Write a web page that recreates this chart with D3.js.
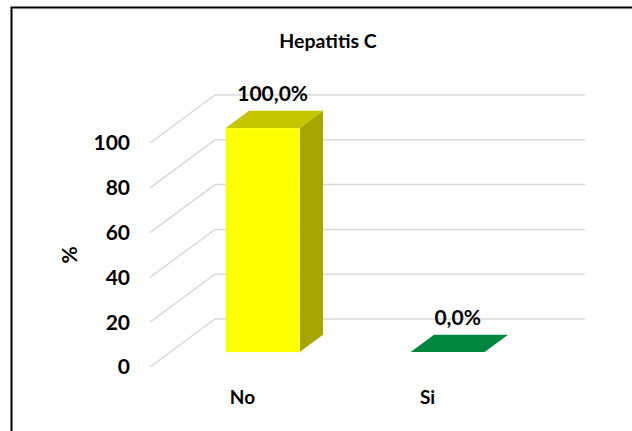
<!DOCTYPE html>
<html lang="es">
<head>
    <meta charset="UTF-8">
    <title>Hepatitis C</title>
    <style>
        body { margin: 0; background: #fff; }
        text { font-family: Lato, "Open Sans", sans-serif; font-weight: bold; fill: #000; }
    </style>
</head>
<body>
<script src="https://d3js.org/d3.v7.min.js"></script>
<script>
    let w = 632, h = 431;

    // datos
    let categories = ["No", "Si"];
    let values = [100, 0];
    let valueLabels = ["100,0%", "0,0%"];
    let barColors = ["#ffff00", "#00863d"];
    let topColors = ["#c6c600", "#00863d"];
    let sideColors = ["#a6a600", "#006b30"];
    let ticks = [0, 20, 40, 60, 80, 100];

    // profundidad del pseudo 3D
    let depth = {dx: 65, dy: -48};
    let barFront = 0.31, barBack = 0.67;

    let x = d3.scaleBand()
        .domain(categories)
        .range([150, 520])
        .padding(0);

    let y = d3.scaleLinear()
        .domain([0, 100])
        .range([367, 143]);

    let svg = d3.select("body")
        .append("svg")
        .attr("width", w)
        .attr("height", h);

    // borde
    svg.append("path")
        .attr("d", "M11.5," + h + "V7.5H" + w)
        .attr("fill", "none")
        .attr("stroke", "#000")
        .attr("stroke-width", 2);

    // titulo
    svg.append("text")
        .attr("x", 328)
        .attr("y", 48)
        .attr("text-anchor", "middle")
        .style("font-size", "19.5px")
        .text("Hepatitis C");

    // rejilla (suelo lateral + pared de fondo)
    let grid = svg.append("g");
    ticks.forEach(function (t) {
        let y0 = y(t);
        grid.append("path")
            .attr("d", "M" + x.range()[0] + "," + y0 +
                "L" + (x.range()[0] + depth.dx) + "," + (y0 + depth.dy) +
                "H" + (x.range()[1] + depth.dx))
            .attr("fill", "none")
            .attr("stroke", "#d9d9d9")
            .attr("stroke-width", 1.5);
    });

    // etiquetas del eje Y
    svg.selectAll(".ytick")
        .data(ticks)
        .enter()
        .append("text")
        .attr("class", "ytick")
        .attr("x", 130)
        .attr("y", function (d) { return y(d); })
        .attr("dy", "0.35em")
        .attr("text-anchor", "end")
        .style("font-size", "21px")
        .text(function (d) { return d; });

    svg.append("text")
        .attr("transform", "translate(77,255) rotate(-90)")
        .attr("text-anchor", "middle")
        .style("font-size", "21px")
        .text("%");

    // etiquetas del eje X
    svg.selectAll(".xtick")
        .data(categories)
        .enter()
        .append("text")
        .attr("class", "xtick")
        .attr("x", function (d) { return x(d) + x.bandwidth() / 2; })
        .attr("y", 404)
        .attr("text-anchor", "middle")
        .style("font-size", "19px")
        .text(function (d) { return d; });

    // barras
    let bw = x.bandwidth() * 0.4;
    let f = {dx: depth.dx * barFront, dy: depth.dy * barFront};
    let b = {dx: depth.dx * barBack, dy: depth.dy * barBack};

    categories.forEach(function (c, i) {
        let x0 = x(c) + (x.bandwidth() - bw) / 2 + f.dx;
        let x1 = x0 + bw;
        let yb = y(0) + f.dy;
        let yt = y(values[i]) + f.dy;
        let ox = b.dx - f.dx, oy = b.dy - f.dy;
        let g = svg.append("g");

        if (values[i] > 0) {
            g.append("path")
                .attr("d", "M" + x1 + "," + yt + "L" + (x1 + ox) + "," + (yt + oy) +
                    "L" + (x1 + ox) + "," + (yb + oy) + "L" + x1 + "," + yb + "Z")
                .attr("fill", sideColors[i]);
            g.append("rect")
                .attr("x", x0)
                .attr("y", yt)
                .attr("width", bw)
                .attr("height", yb - yt)
                .attr("fill", barColors[i]);
        }
        g.append("path")
            .attr("d", "M" + x0 + "," + yt + "L" + (x0 + ox) + "," + (yt + oy) +
                "L" + (x1 + ox) + "," + (yt + oy) + "L" + x1 + "," + yt + "Z")
            .attr("fill", topColors[i]);

        svg.append("text")
            .attr("x", (x0 + x1) / 2 + 10)
            .attr("y", yt + oy - 10)
            .attr("text-anchor", "middle")
            .style("font-size", "21px")
            .text(valueLabels[i]);
    });
</script>
</body>
</html>
